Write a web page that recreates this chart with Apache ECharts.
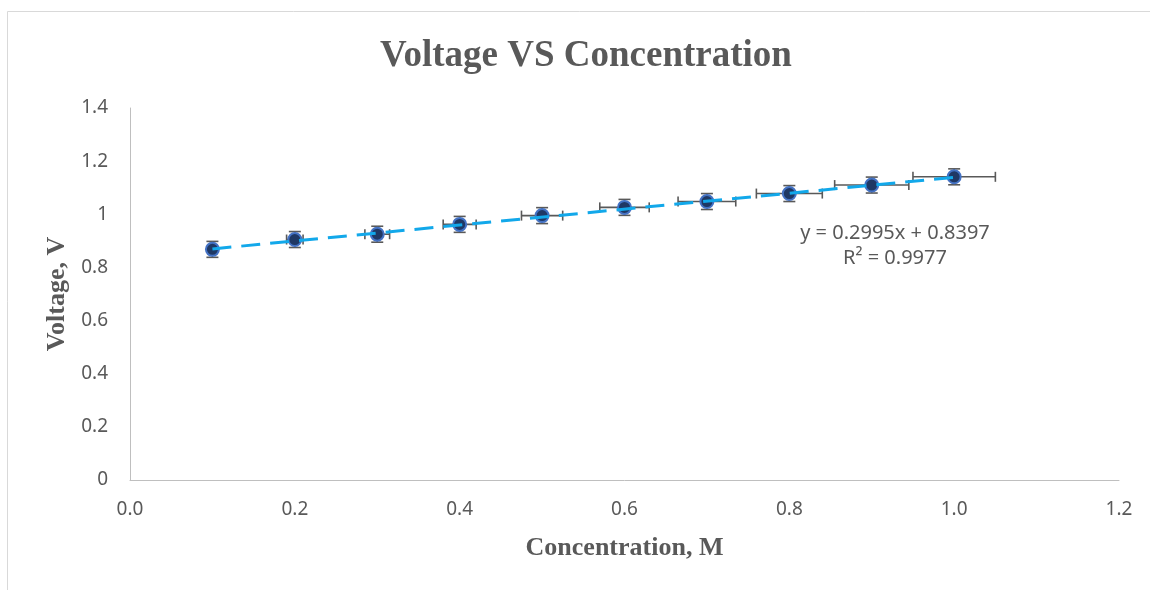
<!DOCTYPE html>
<html>
<head>
<meta charset="utf-8">
<script src="https://cdn.jsdelivr.net/npm/echarts@6/dist/echarts.min.js"></script>
<style>
  html, body { margin: 0; padding: 0; background: #fff; }
  #chart { width: 1150px; height: 590px; }
</style>
</head>
<body>
<div id="chart"></div>
<script>
// data
const conc = [0.1, 0.2, 0.3, 0.4, 0.5, 0.6, 0.7, 0.8, 0.9, 1.0];
const volts = [0.868, 0.905, 0.925, 0.962, 0.995, 1.026, 1.048, 1.078, 1.110, 1.141];
const xErr = [0.005, 0.01, 0.015, 0.02, 0.025, 0.03, 0.035, 0.04, 0.045, 0.05];
const yErr = [0.03, 0.03, 0.03, 0.03, 0.03, 0.03, 0.03, 0.03, 0.03, 0.03];
// trendline ends (from the Excel fit)
const trendX = [0.1, 1.0];
const trendY = [0.8697, 1.1392];
const eqText = ['y = 0.2995x + 0.8397', 'R² = 0.9977'];

const grey = '#595959';
const sans = '"Noto Sans", sans-serif';
const serif = '"Liberation Serif", "Times New Roman", serif';

const points = conc.map((x, i) => [x, volts[i]]);
const errData = conc.map((x, i) => [x, volts[i], xErr[i], yErr[i]]);
const trend = trendX.map((x, i) => [x, trendY[i]]);

// error bars drawn as one custom series
const renderErr = (params, api) => {
    let x = api.value(0), y = api.value(1), dx = api.value(2), dy = api.value(3);
    let c = api.coord([x, y]);
    let l = api.coord([x - dx, y]), r = api.coord([x + dx, y]);
    let t = api.coord([x, y + dy]), b = api.coord([x, y - dy]);
    let style = { stroke: grey, lineWidth: 1.6 };
    const seg = (x1, y1, x2, y2) => ({ type: 'line', shape: { x1, y1, x2, y2 }, style });
    return {
        type: 'group',
        children: [
            seg(l[0], c[1], r[0], c[1]),
            seg(l[0], c[1] - 5, l[0], c[1] + 5),
            seg(r[0], c[1] - 5, r[0], c[1] + 5),
            seg(c[0], t[1], c[0], b[1]),
            seg(c[0] - 6, t[1], c[0] + 6, t[1]),
            seg(c[0] - 6, b[1], c[0] + 6, b[1])
        ]
    };
};

let myChart = echarts.init(document.getElementById('chart'));

let option = {
    animation: false,
    backgroundColor: '#fff',
    grid: { left: 130, right: 31, top: 108, bottom: 110 },
    graphic: [
        {
            type: 'rect', silent: true, z: -10,
            shape: { x: 7.5, y: 11.5, width: 1300, height: 700 },
            style: { fill: null, stroke: '#d9d9d9', lineWidth: 1 }
        },
        {
            type: 'text', x: 586, y: 56,
            style: {
                text: 'Voltage VS Concentration', fill: grey,
                font: 'bold 37px ' + serif, textAlign: 'center', textVerticalAlign: 'middle'
            }
        },
        {
            type: 'text', x: 895, y: 246,
            style: {
                text: eqText.join('\n'), fill: grey, font: '20px ' + sans,
                lineHeight: 25, textAlign: 'center', textVerticalAlign: 'middle'
            }
        }
    ],
    xAxis: {
        type: 'value', min: 0, max: 1.2, interval: 0.2,
        name: 'Concentration, M', nameLocation: 'middle', nameGap: 55,
        nameTextStyle: { fontFamily: serif, fontWeight: 'bold', fontSize: 26, color: grey },
        axisLine: { lineStyle: { color: '#bfbfbf', width: 1 } },
        axisTick: { show: false },
        splitLine: { show: false },
        axisLabel: {
            color: grey, fontFamily: sans, fontSize: 19, margin: 20,
            formatter: v => v.toFixed(1)
        }
    },
    yAxis: {
        type: 'value', min: 0, max: 1.4, interval: 0.2,
        name: 'Voltage, V', nameLocation: 'middle', nameGap: 60,
        nameTextStyle: { fontFamily: serif, fontWeight: 'bold', fontSize: 26, color: grey },
        axisLine: { show: true, lineStyle: { color: '#bfbfbf', width: 1 } },
        axisTick: { show: false },
        splitLine: { show: false },
        axisLabel: { color: grey, fontFamily: sans, fontSize: 19, margin: 22 }
    },
    series: [
        {
            type: 'custom', renderItem: renderErr, data: errData, z: 2,
            encode: { x: 0, y: 1 }, silent: true
        },
        {
            type: 'scatter', data: points, z: 3,
            symbol: 'circle', symbolSize: 13,
            itemStyle: { color: '#1f3864', borderColor: '#4472c4', borderWidth: 2, opacity: 1 }
        },
        {
            type: 'line', data: trend, z: 4, symbol: 'none',
            lineStyle: { color: '#12a8ea', width: 3, type: [19, 10] }
        }
    ]
};

myChart.setOption(option);
</script>
</body>
</html>
